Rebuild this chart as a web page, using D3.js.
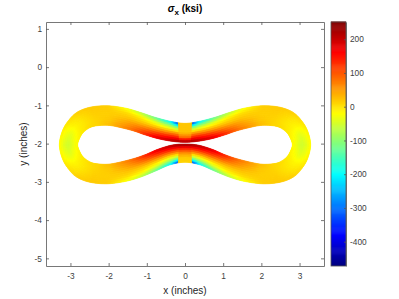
<!DOCTYPE html>
<html>
<head>
<meta charset="utf-8">
<script src="https://cdn.jsdelivr.net/npm/d3@7"></script>
<style>
body { margin:0; background:#fff; }
svg { display:block; }
text { font-family:"Liberation Sans",sans-serif; fill:#262626; }
.tick text { font-size:8.3px; fill:#404040; }
.label { font-size:10px; }
.title { font-size:10px; font-weight:bold; fill:#000; }
.domain, .tick line { stroke:#555; stroke-width:0.8px; }
</style>
</head>
<body>
<svg id="chart" width="399" height="299"></svg>
<script>
// ring section, one quarter (x>0), neck to lobe end
var xOuter = [0, 0.39, 0.79, 1.18, 1.57, 2.04, 2.49, 2.84, 3.09, 3.23, 3.29];
var xInner = [0, 0.34, 0.71, 1.05, 1.41, 1.94, 2.28, 2.49, 2.66, 2.76, 2.81];
var yOuterTop = [-1.47, -1.415, -1.31, -1.18, -1.07, -1.01, -1.05, -1.19, -1.45, -1.72, -2.03];
var yInnerTop = [-1.965, -1.94, -1.87, -1.77, -1.65, -1.53, -1.53, -1.58, -1.70, -1.86, -2.03];
var yOuterLow = [-2.488, -2.554, -2.724, -2.881, -2.99, -3.05, -3.01, -2.87, -2.61, -2.34, -2.03];
var yInnerLow = [-2.012, -2.038, -2.148, -2.292, -2.41, -2.53, -2.53, -2.48, -2.36, -2.20, -2.03];

// stress (ksi) at stations along the ring, outer edge -> inner edge
var stations = [0, 0.49, 0.5, 1, 2, 3, 4, 5, 6, 7, 8, 9, 10];
var sigmaTop = [
    [20, 20, -370, -220, -130, -70, -25, 15, 18, 15, 0, -10, -15],
    [20, 20, -120, -80, -40, -10, 5, 15, 15, 5, -10, -30, -40],
    [22, 22, 30, 30, 30, 25, 25, 15, 12, 0, -15, -40, -55],
    [85, 85, 130, 135, 115, 85, 55, 20, 10, 0, -10, -25, -35],
    [235, 235, 235, 220, 190, 140, 85, 30, 10, 5, -5, -10, -15]
];
var sigmaLow = [
    [10, 10, -370, -220, -130, -70, -25, 15, 18, 15, 0, -10, -15],
    [15, 15, -120, -80, -40, -10, 5, 15, 15, 5, -10, -30, -40],
    [50, 50, 30, 30, 30, 25, 25, 15, 12, 0, -15, -40, -55],
    [135, 135, 130, 135, 115, 85, 55, 20, 10, 0, -10, -25, -35],
    [235, 235, 235, 220, 190, 140, 85, 30, 10, 5, -5, -10, -15]
];
var xTicks = [-3, -2, -1, 0, 1, 2, 3];
var yTicks = [-5, -4, -3, -2, -1, 0, 1];
var barTicks = [-400, -300, -200, -100, 0, 100, 200];
var sigmaRange = [-472, 251];

var plot = {left:46, right:324, top:22, bottom:266};
var bar = {left:331, right:346};

var xScale = d3.scaleLinear().domain([-3.64, 3.64]).range([plot.left, plot.right]);
var yScale = d3.scaleLinear().domain([-5.2, 1.18]).range([plot.bottom, plot.top]);
var barScale = d3.scaleLinear().domain(sigmaRange).range([plot.bottom, plot.top]);

var clip01 = function(v){ return Math.max(0, Math.min(1, v)); }
var jet = function(v)
{
    var t = (v - sigmaRange[0]) / (sigmaRange[1] - sigmaRange[0]);
    var r = clip01(Math.min(4*t - 1.5, -4*t + 4.5));
    var g = clip01(Math.min(4*t - 0.5, -4*t + 3.5));
    var b = clip01(Math.min(4*t + 0.5, -4*t + 2.5));
    return d3.rgb(r*255, g*255, b*255).formatHex();
}

// catmull-rom through the section points, mirrored at both ends
var spline = function(xs, ys, s)
{
    var n = xs.length - 1;
    var i = Math.min(Math.floor(s), n - 1);
    var t = s - i;
    var px = function(k){
        if (k < 0) return [-xs[-k], ys[-k]];
        if (k > n) return [xs[2*n-k], 2*ys[n] - ys[2*n-k]];
        return [xs[k], ys[k]];
    };
    var p0 = px(i-1), p1 = px(i), p2 = px(i+1), p3 = px(i+2);
    var cr = function(a, b, c, d){
        return 0.5*(2*b + (c-a)*t + (2*a-5*b+4*c-d)*t*t + (3*b-a-3*c+d)*t*t*t);
    };
    return [cr(p0[0],p1[0],p2[0],p3[0]), cr(p0[1],p1[1],p2[1],p3[1])];
}

var svg = d3.select("#chart");

var drawQuarter = function(sign, yOuter, yInner, sigma)
{
    var g = svg.append("g");
    var thick = d3.scaleLinear().domain([0, 1, 2, 3, 4]);
    var columns = sigma.map(function(col){
        return d3.scaleLinear().domain(stations).range(col);
    });
    var stepS = 0.05, stepT = 0.1;
    var cells = [];
    for (var a = 0; a < 200; a++) {
        for (var b = 0; b < 10; b++) {
            cells.push([a, b]);
        }
    }
    var corner = function(s, t){
        var o = spline(xOuter, yOuter, s);
        var n = spline(xInner, yInner, s);
        return [xScale(sign*(o[0] + (n[0]-o[0])*t)), yScale(o[1] + (n[1]-o[1])*t)];
    };
    var value = function(s, t){
        var at = columns.map(function(c){ return c(s); });
        return thick.range(at)(t*4);
    };
    g.selectAll("path").data(cells).enter().append("path")
        .attr("d", function(c){
            var s0 = c[0]*stepS, s1 = (c[0]+1)*stepS, t0 = c[1]*stepT, t1 = (c[1]+1)*stepT;
            return d3.line()([corner(s0,t0), corner(s1,t0), corner(s1,t1), corner(s0,t1)]) + "Z";
        })
        .attr("fill", function(c){ return jet(value((c[0]+0.5)*stepS, (c[1]+0.5)*stepT)); })
        .attr("stroke", function(c){ return jet(value((c[0]+0.5)*stepS, (c[1]+0.5)*stepT)); })
        .attr("stroke-width", 0.7);
}

drawQuarter(1, yOuterTop, yInnerTop, sigmaTop);
drawQuarter(-1, yOuterTop, yInnerTop, sigmaTop);
drawQuarter(1, yOuterLow, yInnerLow, sigmaLow);
drawQuarter(-1, yOuterLow, yInnerLow, sigmaLow);

// axes, ticks point inward like matlab
var drawAxes = function()
{
    var fmt = function(d){ return String(d); };
    var axes = svg.append("g");
    axes.append("g").attr("transform","translate(0,"+plot.bottom+")")
        .call(d3.axisBottom(xScale).tickValues(xTicks).tickFormat(fmt).tickSizeInner(-3).tickSizeOuter(0).tickPadding(7));
    axes.append("g").attr("transform","translate(0,"+plot.top+")")
        .call(d3.axisTop(xScale).tickValues(xTicks).tickSizeInner(-3).tickSizeOuter(0).tickFormat(""));
    axes.append("g").attr("transform","translate("+plot.left+",0)")
        .call(d3.axisLeft(yScale).tickValues(yTicks).tickFormat(fmt).tickSizeInner(-3).tickSizeOuter(0).tickPadding(4));
    axes.append("g").attr("transform","translate("+plot.right+",0)")
        .call(d3.axisRight(yScale).tickValues(yTicks).tickSizeInner(-3).tickSizeOuter(0).tickFormat(""));
}
drawAxes();

var drawColorbar = function()
{
    var g = svg.append("g");
    var levels = d3.range(256);
    var stepV = (sigmaRange[1]-sigmaRange[0])/256;
    g.selectAll("rect").data(levels).enter().append("rect")
        .attr("x", bar.left)
        .attr("width", bar.right-bar.left)
        .attr("y", function(d){ return barScale(sigmaRange[0]+(d+1)*stepV)-0.5; })
        .attr("height", 1.5)
        .attr("fill", function(d){ return jet(sigmaRange[0]+(d+0.5)*stepV); });
    svg.append("g").attr("transform","translate("+bar.right+",0)")
        .call(d3.axisRight(barScale).tickValues(barTicks).tickFormat(String).tickSizeInner(-2).tickSizeOuter(0).tickPadding(4));
    svg.append("rect").attr("x",bar.left).attr("y",plot.top)
        .attr("width",bar.right-bar.left).attr("height",plot.bottom-plot.top)
        .attr("fill","none").attr("stroke","#555").attr("stroke-width",0.8);
}
drawColorbar();

var drawLabels = function()
{
    var labels = svg.append("g");
    labels.append("text").text("x (inches)").classed("label",true)
        .attr("text-anchor","middle").attr("x",185).attr("y",294);
    labels.append("text").text("y (inches)").classed("label",true)
        .attr("text-anchor","middle")
        .attr("transform","translate(27,144) rotate(-90)");
    var title = labels.append("text").classed("title",true)
        .attr("text-anchor","middle").attr("x",185).attr("y",12);
    title.append("tspan").text("\u03c3").attr("font-style","italic");
    title.append("tspan").text("x").attr("dy",3).attr("font-size",8);
    title.append("tspan").text(" (ksi)").attr("dy",-3);
}
drawLabels();
</script>
</body>
</html>
